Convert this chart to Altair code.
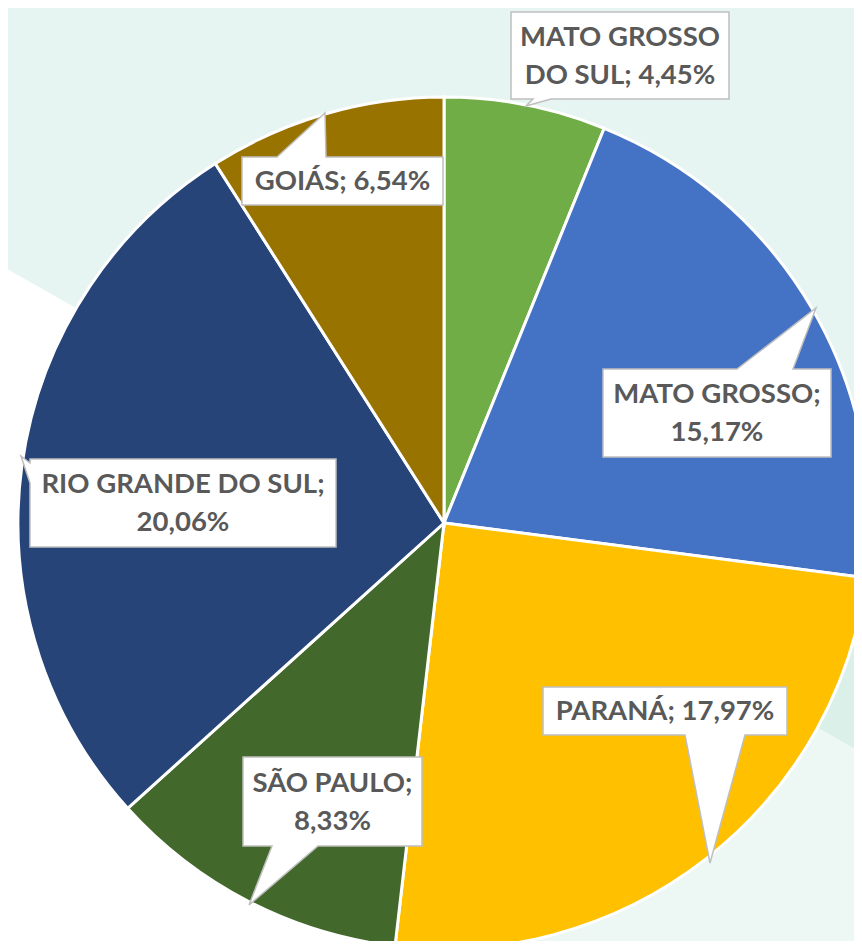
import altair as alt
import pandas as pd

# ---------------- data ----------------
states = ["MATO GROSSO DO SUL", "MATO GROSSO", "PARANÁ", "SÃO PAULO", "RIO GRANDE DO SUL", "GOIÁS"]
shares = [4.45, 15.17, 17.97, 8.33, 20.06, 6.54]
labels = [
    "MATO GROSSO\nDO SUL; 4,45%",
    "MATO GROSSO;\n15,17%",
    "PARANÁ; 17,97%",
    "SÃO PAULO;\n8,33%",
    "RIO GRANDE DO SUL;\n20,06%",
    "GOIÁS; 6,54%",
]

# ---------------- style / layout ----------------
slice_colors = ["#70AD47", "#4472C4", "#FFC000", "#43682B", "#264478", "#997300"]
OFF = 8                      # page margin
W, H = 846, 933
CX, CY, R = 444 - OFF, 523 - OFF, 426
LINE_H = 38

# callout boxes (page coords): x0, y0, x1, y1, tail side, base a, base b, tip
callouts = [
    (511, 12, 729, 99, "bottom", 533, 551, (526, 106)),
    (603, 369, 831, 457, "top", 737, 793, (816, 308)),
    (543, 687, 787, 735, "bottom", 685, 745, (710, 863)),
    (243, 757, 422, 846, "bottom", 272, 318, (249, 905)),
    (30, 459, 336, 547, "left", 463, 483, (21, 456)),
    (242, 157, 443, 205, "top", 277, 326, (325, 113)),
]

bg_shapes = [
    ("#E6F5F1", [(0, 0), (862, 0), (862, 753), (0, 265)]),
    ("#DCF0EA", [(862, 520), (862, 753), (700, 661)]),
    ("#EDF8F5", [(862, 753), (862, 949), (430, 949), (600, 605)]),
]


def P(pts):
    return [[x - OFF, y - OFF] for x, y in pts]


def feature(pts, color):
    ring = P(pts)
    ring.append(ring[0])
    return {"type": "Feature", "properties": {"color": color},
            "geometry": {"type": "Polygon", "coordinates": [ring]}}


def callout_poly(c):
    x0, y0, x1, y1, side, a, b, tip = c
    pts = [(x0, y0)]
    if side == "top":
        pts += [(a, y0), tip, (b, y0)]
    pts.append((x1, y0))
    pts.append((x1, y1))
    if side == "bottom":
        pts += [(b, y1), tip, (a, y1)]
    pts.append((x0, y1))
    if side == "left":
        pts += [(x0, b), tip, (x0, a)]
    return pts


bg = alt.Chart(alt.Data(values=[feature(p, c) for c, p in bg_shapes])).mark_geoshape(
    strokeWidth=0
).encode(color=alt.Color("properties.color:N", scale=None)).project(
    type="identity", scale=1, translate=[0, 0])

pie_df = pd.DataFrame({"state": states, "share": shares, "idx": range(len(states)),
                       "col": slice_colors})
pie = alt.Chart(pie_df).mark_arc(outerRadius=R, stroke="white", strokeWidth=3).encode(
    theta=alt.Theta("share:Q", stack=True),
    color=alt.Color("col:N", scale=None),
    order=alt.Order("idx:Q"),
    x=alt.value(CX),
    y=alt.value(CY),
)

boxes = alt.Chart(alt.Data(values=[feature(callout_poly(c), "#FFFFFF") for c in callouts])).mark_geoshape(
    stroke="#BFBFBF", strokeWidth=1.5
).encode(color=alt.Color("properties.color:N", scale=None)).project(
    type="identity", scale=1, translate=[0, 0])

txt_df = pd.DataFrame({
    "label": labels,
    "tx": [(c[0] + c[2]) / 2 - OFF for c in callouts],
    "ty": [(c[1] + c[3]) / 2 - OFF + 1 - (lab.count("\n") * LINE_H) / 2
           for c, lab in zip(callouts, labels)],
})
text = alt.Chart(txt_df).mark_text(
    font="Lato", fontWeight="bold", fontSize=27.5, color="#595959",
    lineBreak="\n", lineHeight=LINE_H, align="center", baseline="middle"
).encode(
    x=alt.X("tx:Q", scale=None, axis=None),
    y=alt.Y("ty:Q", scale=None, axis=None),
    text="label:N",
)

chart = alt.layer(bg, pie, boxes, text).properties(
    width=W, height=H, padding=0, autosize=alt.AutoSizeParams(type="none")
).configure(background="white").configure_view(stroke=None)

chart.save("out.html", embed_options={"renderer": "svg", "actions": False})
